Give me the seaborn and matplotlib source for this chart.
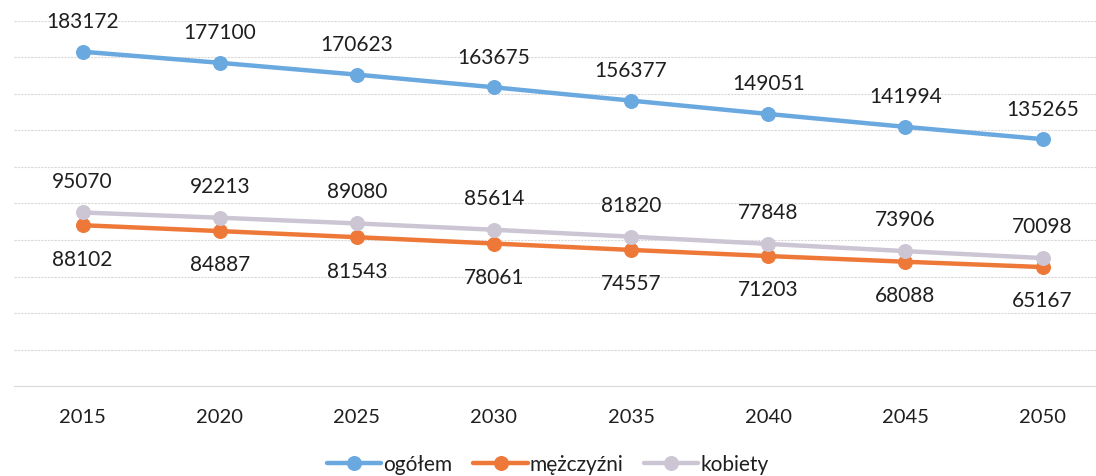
import numpy as np
import pandas as pd
import matplotlib
matplotlib.use("Agg")
import matplotlib.pyplot as plt
import seaborn as sns

# Dane
LATA = ["2015", "2020", "2025", "2030", "2035", "2040", "2045", "2050"]
OGOLEM = [183172, 177100, 170623, 163675, 156377, 149051, 141994, 135265]
MEZCZYZNI = [88102, 84887, 81543, 78061, 74557, 71203, 68088, 65167]
KOBIETY = [95070, 92213, 89080, 85614, 81820, 77848, 73906, 70098]

SERIE = ["ogółem", "mężczyźni", "kobiety"]
KOLORY = {"ogółem": "#6AA8E0", "mężczyźni": "#EE7838", "kobiety": "#CCC6D4"}
# offset etykiet (w punktach): nad albo pod punktem
OFFSET = {"ogółem": 22, "mężczyźni": -24, "kobiety": 23}

df = pd.DataFrame({
    "rok": LATA * 3,
    "wartosc": OGOLEM + MEZCZYZNI + KOBIETY,
    "seria": [s for s in SERIE for _ in LATA],
})

sns.set_theme(style="white")
plt.rcParams["font.family"] = ["Lato", "DejaVu Sans"]

fig = plt.figure(figsize=(10.96, 4.77), dpi=100)
ax = fig.add_axes([14 / 1096, 90 / 477, (1096 - 14) / 1096, 365 / 477])

for s in SERIE:
    d = df[df["seria"] == s]
    sns.lineplot(data=d, x="rok", y="wartosc", ax=ax, color=KOLORY[s],
                 linewidth=3.2, marker="o", markersize=10,
                 markeredgecolor=KOLORY[s], label=s, sort=False)
    for i, (r, v) in enumerate(zip(d["rok"], d["wartosc"])):
        ax.annotate(f"{v}", (i, v), xytext=(0, OFFSET[s]), textcoords="offset points",
                    ha="center", va="center", fontsize=15, color="#1f1f1f")

ax.set_ylim(0, 200000)
ax.set_xlim(-0.5, -0.5 + (1096 - 14) / 137.14)
ax.set_yticks(np.arange(0, 200001, 20000))
ax.yaxis.grid(True, color="#d9d9d9", linewidth=0.8, linestyle=(0, (2, 1)))
ax.xaxis.grid(False)
ax.set_yticklabels([])
ax.tick_params(axis="y", length=0)
ax.tick_params(axis="x", length=0, labelsize=14.5, pad=16, colors="#1f1f1f")
ax.set_xlabel("")
ax.set_ylabel("")
for sp in ["top", "left", "right"]:
    ax.spines[sp].set_visible(False)
ax.spines["bottom"].set_color("#d9d9d9")
ax.spines["bottom"].set_linewidth(0.8)

ax.get_legend().remove()
handles, labels = ax.get_legend_handles_labels()
fig.legend(handles, labels, loc="center", bbox_to_anchor=(0.5, 12 / 477), ncol=3,
           frameon=False, fontsize=15, handlelength=2.6, columnspacing=1.0,
           handletextpad=0.1, labelcolor="#1f1f1f")

fig.savefig("out.png", dpi=100)
